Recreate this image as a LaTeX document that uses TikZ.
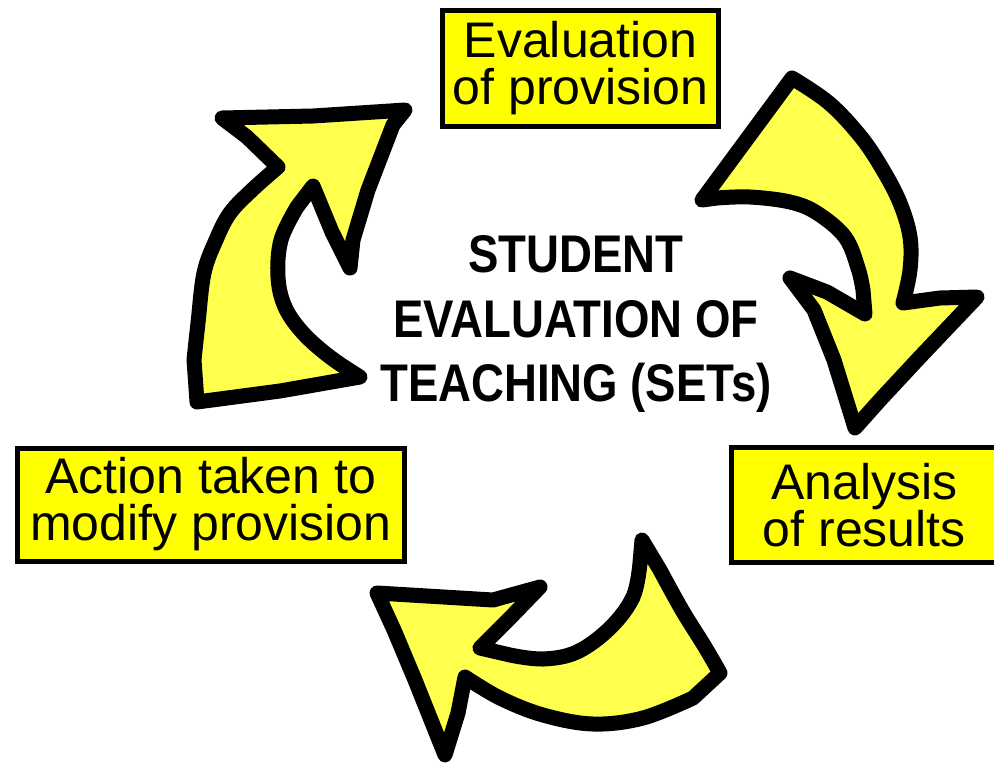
\documentclass[tikz,border=0pt]{standalone}
\usepackage{fontspec}
\setmainfont{Liberation Sans}
\newfontfamily\condfont[FakeStretch=0.86]{Liberation Sans}
\definecolor{boxyellow}{HTML}{FFFF00}
\definecolor{arrowyellow}{HTML}{FFFF4D}
\begin{document}
\begin{tikzpicture}[x=1pt,y=-1pt,
  labelbox/.style={draw=black, line width=5pt, fill=boxyellow, align=center,
    font=\fontsize{50}{47}\selectfont, inner sep=0pt},
  bigarrow/.style={draw=black, line width=15pt, line join=round, fill=arrowyellow},
  centretext/.style={align=center, font=\condfont\bfseries\fontsize{53}{64.5}\selectfont, inner sep=0pt}]
\useasboundingbox[fill=white] (0,0) rectangle (994,766);

% boxes
\node[labelbox, minimum width=276pt, minimum height=115.5pt] (evalbox) at (580.5,68.25) {Evaluation\\of provision};
\node[labelbox, minimum width=387.5pt, minimum height=113pt] (actionbox) at (210.75,504.5) {Action taken to\\modify provision};
\node[labelbox, minimum width=265.5pt, minimum height=115pt] (analysisbox) at (864.25,505) {Analysis\\of results};

% centre text
\node[centretext] (sets) at (576,324) {STUDENT\\EVALUATION OF\\TEACHING (SETs)};

% upper-left arrow
\draw[bigarrow] (222,118) -- (313,116) -- (390,111) -- (405,110) -- (393,125) -- (368,190) -- (353,240) -- (350,268)
  -- (332,232) -- (313,186)
  -- plot[smooth, tension=0.6] coordinates {(297,207) (281,240) (278,277) (285,307) (303,333) (330,357) (360,377)}
  -- (280,391) -- (197,402)
  -- plot[smooth, tension=0.6] coordinates {(194,360) (198,323) (204,273) (216,240) (230,213) (252,190) (278,167)}
  -- (247,137) -- cycle;

% upper-right arrow
\draw[bigarrow] (702,200)
  -- plot[smooth, tension=0.6] coordinates {(792,78) (829,103) (861,137) (883,170) (900,203) (910,237) (910,270) (903,303)}
  -- (940,298) -- (977,297) -- (920,357) -- (880,400) -- (855,428) -- (834,360) -- (814,310) -- (790,278)
  -- (827,292) -- (865,314)
  -- plot[smooth, tension=0.6] coordinates {(863,290) (858,268) (845,237) (817,213) (790,202) (750,197) (717,198)}
  -- cycle;

% bottom arrow
\draw[bigarrow] (642,540)
  -- plot[smooth, tension=0.6] coordinates {(660,570) (682,610) (705,647) (720,673)}
  -- plot[smooth, tension=0.6] coordinates {(693,698) (643,718) (593,724) (543,715) (500,698) (465,677)}
  -- (458,713) -- (445,755) -- (415,680) -- (394,630) -- (377,593) -- (427,596) -- (493,600) -- (540,587)
  -- (510,618) -- (480,648)
  -- plot[smooth, tension=0.6] coordinates {(510,655) (543,659) (577,652) (610,628) (633,597) (640,563)}
  -- cycle;
\end{tikzpicture}
\end{document}
